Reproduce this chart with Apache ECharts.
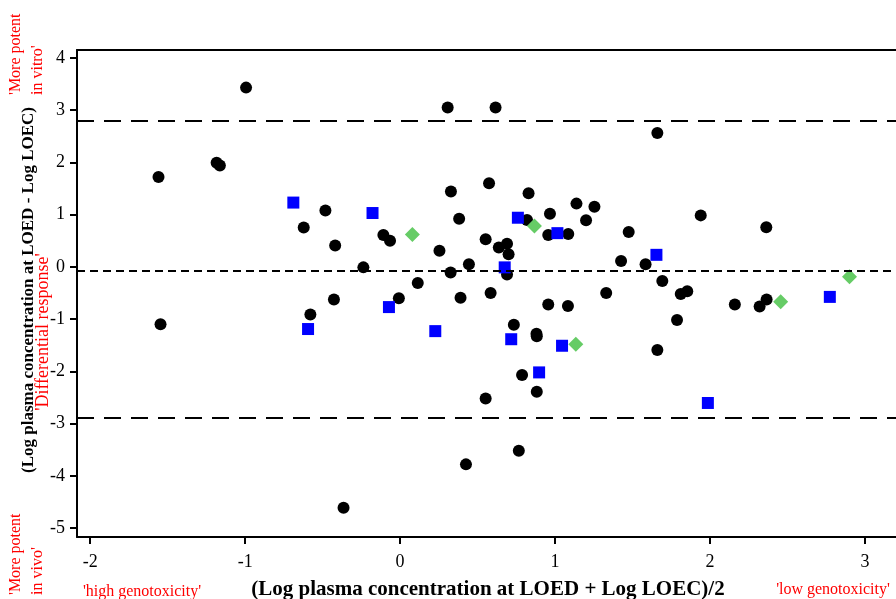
<!DOCTYPE html>
<html><head><meta charset="utf-8">
<script src="https://cdn.jsdelivr.net/npm/echarts@6/dist/echarts.min.js"></script>
<style>html,body{margin:0;padding:0;background:#fff}#c{width:896px;height:599px}</style>
</head><body><div id="c"></div>
<script>
var xTicks = [-2, -1, 0, 1, 2, 3];
var yTicks = [-5, -4, -3, -2, -1, 0, 1, 2, 3, 4];
var refLines = { upper: 2.80, mean: -0.08, lower: -2.89 };
var blackCircles = [[-1.559,1.72],[-1.546,-1.10],[-1.184,1.99],[-1.163,1.94],[-0.994,3.43],[-0.622,0.755],[-0.482,1.08],[-0.419,0.41],[-0.579,-0.91],[-0.427,-0.625],[-0.365,-4.61],[-0.237,-0.01],[-0.108,0.61],[-0.065,0.50],[-0.008,-0.60],[0.114,-0.31],[0.254,0.31],[0.307,3.05],[0.328,1.44],[0.326,-0.11],[0.381,0.92],[0.39,-0.59],[0.444,0.05],[0.425,-3.78],[0.552,0.53],[0.552,-2.52],[0.574,1.60],[0.584,-0.50],[0.616,3.05],[0.637,0.37],[0.69,0.44],[0.70,0.24],[0.69,-0.145],[0.734,-1.11],[0.766,-3.52],[0.787,-2.07],[0.819,0.895],[0.829,1.41],[0.882,-1.33],[0.88,-1.28],[0.882,-2.39],[0.956,0.61],[0.967,1.015],[0.956,-0.72],[1.083,-0.75],[1.085,0.63],[1.138,1.21],[1.20,0.89],[1.254,1.15],[1.33,-0.50],[1.426,0.11],[1.475,0.665],[1.584,0.05],[1.66,2.56],[1.66,-1.59],[1.692,-0.27],[1.787,-1.015],[1.811,-0.52],[1.853,-0.465],[1.94,0.985],[2.16,-0.72],[2.32,-0.76],[2.365,-0.625],[2.363,0.76]];
var blueSquares = [[-0.689,1.23],[-0.594,-1.19],[-0.178,1.03],[-0.072,-0.77],[0.227,-1.23],[0.675,-0.01],[0.717,-1.385],[0.76,0.94],[0.897,-2.02],[1.015,0.645],[1.045,-1.51],[1.654,0.23],[1.986,-2.605],[2.773,-0.575]];
var greenDiamonds = [[0.079,0.62],[0.867,0.78],[1.134,-1.48],[2.456,-0.67],[2.90,-0.19]];

var FONT = '"Liberation Serif", "Times New Roman", serif';
var chart = echarts.init(document.getElementById('c'), null, {renderer: 'canvas'});
var red = '#ff0000';
chart.setOption({
  animation: false,
  backgroundColor: '#fff',
  grid: { left: 77, top: 50, right: -14, bottom: 62, containLabel: false },
  xAxis: [{
    type: 'value', min: -2.085, max: 3.2,
    axisLine: { show: true, onZero: false, lineStyle: { color: '#000', width: 2 } },
    axisTick: { show: true, length: 7, inside: false, customValues: xTicks, lineStyle: { color: '#000', width: 2 } },
    axisLabel: { customValues: xTicks, margin: 16, color: '#000', fontSize: 18, fontFamily: FONT,
      formatter: function (v) { return String(v); } },
    splitLine: { show: false }
  }, {
    type: 'value', position: 'top', min: -2.085, max: 3.2,
    axisLine: { show: true, onZero: false, lineStyle: { color: '#000', width: 2 } },
    axisTick: { show: false }, axisLabel: { show: false }, splitLine: { show: false }
  }],
  yAxis: [{
    type: 'value', min: -5.17, max: 4.15,
    axisLine: { show: true, onZero: false, lineStyle: { color: '#000', width: 2 } },
    axisTick: { show: true, length: 7, customValues: yTicks, lineStyle: { color: '#000', width: 2 } },
    axisLabel: { customValues: yTicks, margin: 12, color: '#000', fontSize: 18, fontFamily: FONT,
      formatter: function (v) { return String(v); } },
    splitLine: { show: false }
  }],
  series: [{
    type: 'scatter', data: blackCircles, symbol: 'circle', symbolSize: 12,
    itemStyle: { color: '#000', opacity: 1 }, z: 3,
    markLine: {
      silent: true, symbol: ['none', 'none'], label: { show: false },
      data: [
        { yAxis: refLines.upper, lineStyle: { type: [17, 10], color: '#000', width: 2 } },
        { yAxis: refLines.lower, lineStyle: { type: [17, 10], color: '#000', width: 2 } },
        { yAxis: refLines.mean, lineStyle: { type: [8, 5], color: '#000', width: 2 } }
      ]
    }
  }, {
    type: 'scatter', data: blueSquares, symbol: 'rect', symbolSize: 12,
    itemStyle: { color: '#0000ff', opacity: 1 }, z: 4
  }, {
    type: 'scatter', data: greenDiamonds, symbol: 'diamond', symbolSize: [15, 15],
    itemStyle: { color: '#66cc66', opacity: 1 }, z: 4
  }],
  graphic: [
    { type: 'text', x: 29, y: 290, rotation: Math.PI / 2,
      style: { text: '(Log plasma concentration at LOED - Log LOEC)', font: 'bold 17px ' + FONT, fill: '#000', align: 'center', verticalAlign: 'middle' } },
    { type: 'text', x: 488, y: 590,
      style: { text: '(Log plasma concentration at LOED + Log LOEC)/2', font: 'bold 21px ' + FONT, fill: '#000', align: 'center', verticalAlign: 'middle' } },
    { type: 'text', x: 43, y: 332, rotation: Math.PI / 2,
      style: { text: "'Differential response'", font: '18px ' + FONT, fill: red, align: 'center', verticalAlign: 'middle' } },
    { type: 'text', x: 16, y: 95, rotation: Math.PI / 2,
      style: { text: "'More potent", font: '16px ' + FONT, fill: red, align: 'left', verticalAlign: 'middle' } },
    { type: 'text', x: 38, y: 95, rotation: Math.PI / 2,
      style: { text: "in vitro'", font: '16px ' + FONT, fill: red, align: 'left', verticalAlign: 'middle' } },
    { type: 'text', x: 16, y: 595, rotation: Math.PI / 2,
      style: { text: "'More potent", font: '16px ' + FONT, fill: red, align: 'left', verticalAlign: 'middle' } },
    { type: 'text', x: 38, y: 595, rotation: Math.PI / 2,
      style: { text: "in vivo'", font: '16px ' + FONT, fill: red, align: 'left', verticalAlign: 'middle' } },
    { type: 'text', x: 142, y: 592,
      style: { text: "'high genotoxicity'", font: '16px ' + FONT, fill: red, align: 'center', verticalAlign: 'middle' } },
    { type: 'text', x: 833, y: 590,
      style: { text: "'low genotoxicity'", font: '16px ' + FONT, fill: red, align: 'center', verticalAlign: 'middle' } }
  ]
});
</script></body></html>
